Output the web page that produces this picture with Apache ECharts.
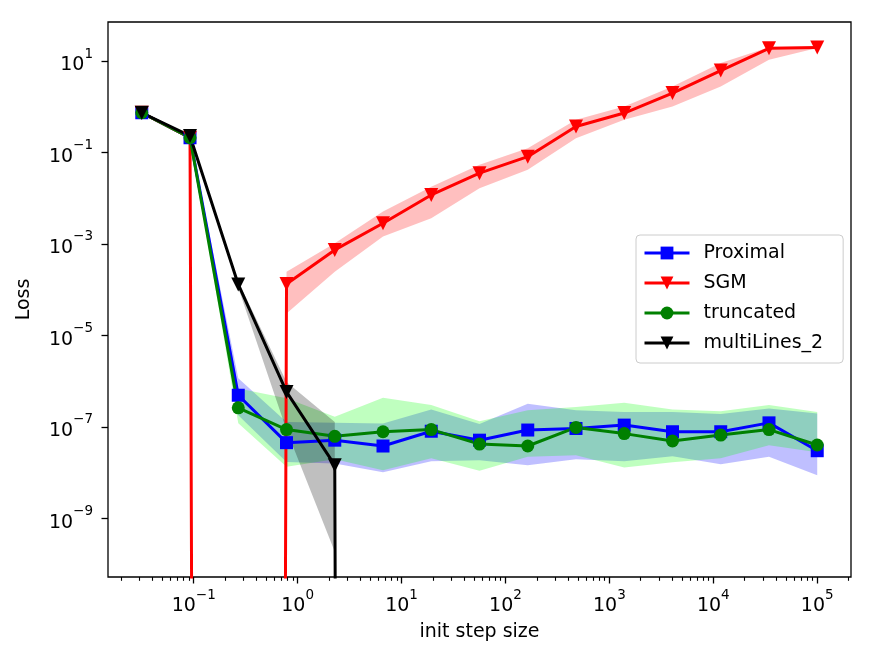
<!DOCTYPE html>
<html>
<head>
<meta charset="utf-8">
<script src="https://cdn.jsdelivr.net/npm/echarts@6/dist/echarts.min.js"></script>
<style>
  html, body { margin: 0; padding: 0; background: #fff; }
  #main { width: 875px; height: 658px; }
</style>
</head>
<body>
<div id="main"></div>
<script>
// init step sizes (log-spaced, 10^-1.5 .. 10^5)
var stepSizes = [0.03162, 0.09211, 0.2683, 0.7814, 2.276, 6.629, 19.31, 56.23, 163.8, 477.0, 1389, 4047, 11788, 34340, 100000];

// a loss that collapsed to 0 (matplotlib clips it far below the axis)
var ZERO_LOSS = 1e-300;

var proximal = [0.74, 0.21, 4.9e-7, 4.5e-8, 5.1e-8, 3.8e-8, 8.0e-8, 5.1e-8, 8.5e-8, 9.2e-8, 1.09e-7, 7.8e-8, 7.8e-8, 1.22e-7, 3.0e-8];
var proximalLo = [0.70, 0.20, 1.8e-7, 1.7e-8, 1.58e-8, 1.02e-8, 1.77e-8, 1.86e-8, 1.45e-8, 1.96e-8, 1.77e-8, 2.28e-8, 1.52e-8, 2.2e-8, 8.7e-9];
var proximalHi = [0.78, 0.22, 1.15e-6, 1.28e-7, 1.22e-7, 1.18e-7, 2.4e-7, 1.15e-7, 3.2e-7, 2.3e-7, 2.1e-7, 2.1e-7, 1.9e-7, 2.5e-7, 1.95e-7];

var sgm = [0.74, 0.21, ZERO_LOSS, 1.33e-4, 7.4e-4, 2.84e-3, 1.18e-2, 3.53e-2, 8.1e-2, 0.37, 0.73, 1.99, 6.2, 19.0, 19.8];
var sgmLo = [null, null, null, 3.0e-5, 2.47e-4, 1.45e-3, 3.65e-3, 1.66e-2, 4.17e-2, 0.206, 0.52, 1.01, 2.78, 10.7, 19.2];
var sgmHi = [null, null, null, 2.47e-4, 1.04e-3, 5.09e-3, 1.79e-2, 5.37e-2, 0.124, 0.52, 1.01, 2.78, 9.04, 20.0, 20.0];

var truncated = [0.74, 0.21, 2.6e-7, 8.7e-8, 6.2e-8, 7.8e-8, 8.7e-8, 4.2e-8, 3.8e-8, 9.7e-8, 7.1e-8, 4.9e-8, 6.6e-8, 8.7e-8, 4.0e-8];
var truncatedLo = [0.70, 0.20, 1.19e-7, 1.33e-8, 1.96e-8, 1.12e-8, 2.06e-8, 1.09e-8, 2.22e-8, 2.4e-8, 1.29e-8, 1.68e-8, 2.06e-8, 3.96e-8, 2.79e-8];
var truncatedHi = [0.78, 0.22, 6.9e-7, 4.2e-7, 1.65e-7, 4.3e-7, 3.0e-7, 1.33e-7, 2.3e-7, 2.7e-7, 3.35e-7, 2.4e-7, 2.2e-7, 3.0e-7, 2.1e-7];

var multiLines2 = [0.74, 0.23, 1.3e-4, 5.8e-7, 1.45e-8, ZERO_LOSS, null, null, null, null, null, null, null, null, null];
var multiLines2Lo = [0.70, 0.22, 1.1e-4, 8.5e-8, 1.85e-10, null, null, null, null, null, null, null, null, null, null];
var multiLines2Hi = [0.78, 0.24, 1.5e-4, 9.6e-7, 1.27e-7, null, null, null, null, null, null, null, null, null, null];

// axis ticks
var xMajorTicks = [0.1, 1, 10, 100, 1000, 10000, 100000];
var yMajorTicks = [1e-9, 1e-7, 1e-5, 1e-3, 1e-1, 10];

(function () {
  var FONT = 'DejaVu Sans';
  var LINE_W = 3;
  var xMin = Math.pow(10, -1.825), xMax = Math.pow(10, 5.325);
  var yMin = Math.pow(10, -10.285), yMax = Math.pow(10, 1.854);

  // minor ticks at 2..9 of every decade
  var xMinorTicks = [];
  for (var d = -2; d <= 5; d++) {
    for (var k = 2; k <= 9; k++) {
      var v = k * Math.pow(10, d);
      if (v > xMin && v < xMax) xMinorTicks.push(v);
    }
  }

  function powLabel(v) {
    var e = Math.round(Math.log10(v));
    return '{b|10}{s|' + (e < 0 ? '\u2212' + (-e) : e) + '}';
  }
  var richPow = {
    b: { fontFamily: FONT, fontSize: 19, color: '#000', lineHeight: 28, verticalAlign: 'bottom' },
    s: { fontFamily: FONT, fontSize: 13.5, color: '#000', lineHeight: 16, verticalAlign: 'top' }
  };

  function pairs(values) {
    return stepSizes.map(function (x, i) {
      return [x, values[i] == null ? '-' : values[i]];
    });
  }

  function lineSeries(name, values, color, symbol, size, rotate) {
    return {
      name: name,
      type: 'line',
      data: pairs(values),
      z: 3,
      symbol: symbol,
      symbolSize: size,
      symbolRotate: rotate,
      showSymbol: true,
      showAllSymbol: true,
      connectNulls: false,
      clip: true,
      lineStyle: { color: color, width: LINE_W },
      itemStyle: { color: color },
      emphasis: { disabled: true }
    };
  }

  // shaded band between lower and upper curves
  function bandSeries(name, lo, hi, color) {
    var rows = [];
    for (var i = 0; i < stepSizes.length; i++) {
      if (lo[i] != null && hi[i] != null) rows.push([stepSizes[i], lo[i], hi[i]]);
    }
    return {
      name: name,
      type: 'custom',
      z: 1,
      silent: true,
      data: rows,
      encode: { x: 0, y: [1, 2] },
      renderItem: function (params, api) {
        if (params.dataIndex !== 0) return null;
        var top = [], bottom = [];
        rows.forEach(function (r) {
          top.push(api.coord([r[0], r[2]]));
          bottom.unshift(api.coord([r[0], r[1]]));
        });
        return {
          type: 'polygon',
          shape: { points: top.concat(bottom) },
          style: { fill: color, stroke: null }
        };
      }
    };
  }

  var myChart = echarts.init(document.getElementById('main'), null, { renderer: 'canvas' });
  var option = {
    animation: false,
    backgroundColor: '#fff',
    textStyle: { fontFamily: FONT },
    grid: {
      left: 108, right: 24, top: 22, bottom: 81,
      show: true, borderColor: '#000', borderWidth: 1.3,
      containLabel: false
    },
    legend: {
      data: ['Proximal', 'SGM', 'truncated', 'multiLines_2'],
      orient: 'vertical',
      left: 636, top: 235,
      padding: [8, 20, 10, 7],
      itemWidth: 45, itemHeight: 16, itemGap: 10,
      backgroundColor: 'rgba(255,255,255,0.8)',
      borderColor: '#cccccc', borderWidth: 1, borderRadius: 4,
      selectedMode: false,
      lineStyle: { width: LINE_W },
      textStyle: { fontFamily: FONT, fontSize: 19, color: '#000', lineHeight: 20, padding: [0, 0, 0, 9] }
    },
    xAxis: [{
      type: 'log',
      min: xMin, max: xMax,
      position: 'bottom',
      name: 'init step size',
      nameLocation: 'middle',
      nameGap: 46,
      nameTextStyle: { fontFamily: FONT, fontSize: 19, color: '#000' },
      axisLine: { show: false },
      splitLine: { show: false },
      axisTick: { show: true, customValues: xMajorTicks, length: 6.5, lineStyle: { color: '#000', width: 1.3 } },
      axisLabel: { customValues: xMajorTicks, formatter: powLabel, rich: richPow, margin: 11 }
    }, {
      type: 'log',
      min: xMin, max: xMax,
      position: 'bottom',
      axisLine: { show: false },
      splitLine: { show: false },
      axisTick: { show: true, customValues: xMinorTicks, length: 3.8, lineStyle: { color: '#000', width: 1.1 } },
      axisLabel: { show: false }
    }],
    yAxis: {
      type: 'log',
      min: yMin, max: yMax,
      name: 'Loss',
      nameLocation: 'middle',
      nameGap: 74,
      nameTextStyle: { fontFamily: FONT, fontSize: 19, color: '#000' },
      axisLine: { show: false },
      splitLine: { show: false },
      axisTick: { show: true, customValues: yMajorTicks, length: 6.5, lineStyle: { color: '#000', width: 1.3 } },
      axisLabel: { customValues: yMajorTicks, formatter: powLabel, rich: richPow, margin: 15 }
    },
    series: [
      bandSeries('Proximal band', proximalLo, proximalHi, 'rgba(0,0,255,0.25)'),
      bandSeries('SGM band', sgmLo, sgmHi, 'rgba(255,0,0,0.25)'),
      bandSeries('truncated band', truncatedLo, truncatedHi, 'rgba(0,255,0,0.25)'),
      bandSeries('multiLines_2 band', multiLines2Lo, multiLines2Hi, 'rgba(0,0,0,0.25)'),
      lineSeries('Proximal', proximal, '#0000ff', 'rect', 13, 0),
      lineSeries('SGM', sgm, '#ff0000', 'triangle', 14, 180),
      lineSeries('truncated', truncated, '#008000', 'circle', 13, 0),
      lineSeries('multiLines_2', multiLines2, '#000000', 'triangle', 14, 180)
    ]
  };
  myChart.setOption(option);
})();
</script>
</body>
</html>
